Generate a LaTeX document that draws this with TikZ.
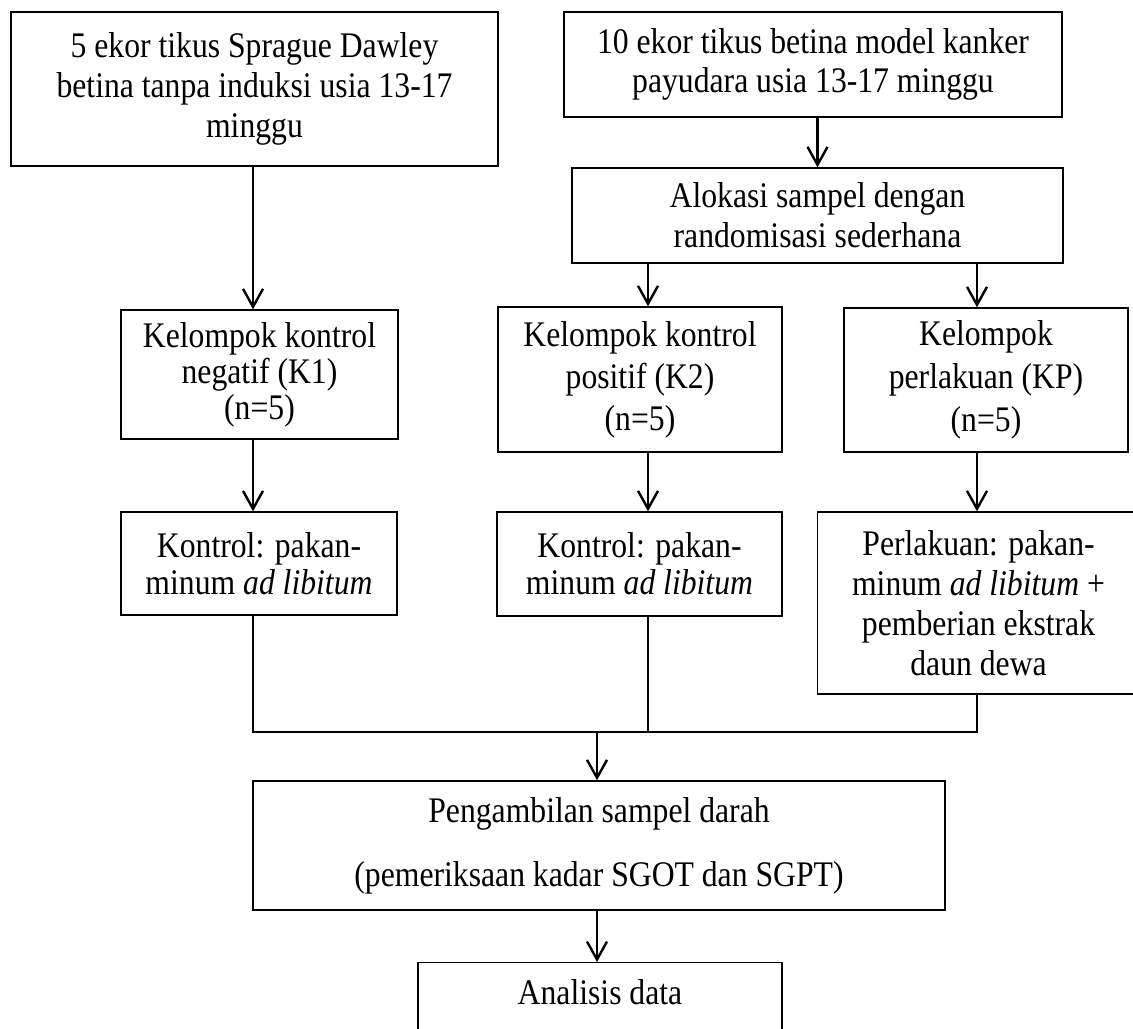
\documentclass[tikz,border=0pt]{standalone}
\usepackage{fontspec}
\setmainfont[FakeStretch=0.88]{Liberation Serif}
\usetikzlibrary{arrows.meta}
\begin{document}
\begin{tikzpicture}[x=0.5pt,y=-0.5pt,
  box/.style={draw=black,line width=0.7pt,rectangle,align=center,inner sep=0pt,
    font=\fontsize{18}{19.5}\selectfont},
  conn/.style={line width=1.2pt,black},
  arr/.style={conn,-{Straight Barb[length=9pt,width=10pt,line width=1.2pt]}}]
\useasboundingbox[fill=white] (0,0) rectangle (1133,1028);

\node[box,minimum width=243.5pt,minimum height=77pt,font=\fontsize{18}{20}\selectfont] (A) at (254.5,89)
  {5 ekor tikus Sprague Dawley\\betina tanpa induksi usia 13-17\\minggu};
\node[box,minimum width=249pt,minimum height=52.5pt] (B) at (813,64.5)
  {10 ekor tikus betina model kanker\\payudara usia 13-17 minggu};
\node[box,minimum width=245.5pt,minimum height=47.5pt,font=\fontsize{18}{20}\selectfont] (C) at (817.5,215.5)
  {Alokasi sampel dengan\\randomisasi sederhana};
\node[box,minimum width=138.5pt,minimum height=64.5pt,font=\fontsize{18}{18}\selectfont] (D) at (259.5,374.5)
  {Kelompok kontrol\\negatif (K1)\\(n=5)};
\node[box,minimum width=142pt,minimum height=72.5pt,font=\fontsize{18}{21}\selectfont] (E) at (640,379.5)
  {Kelompok kontrol\\positif (K2)\\(n=5)};
\node[box,minimum width=142pt,minimum height=72pt,font=\fontsize{18}{21.5}\selectfont] (F) at (986,380)
  {Kelompok\\perlakuan (KP)\\(n=5)};
\node[box,minimum width=138pt,minimum height=51.5pt,font=\fontsize{18}{18.5}\selectfont] (G) at (259,563.5)
  {Kontrol: pakan-\\minum \textit{ad libitum}};
\node[box,minimum width=142.5pt,minimum height=52pt,font=\fontsize{18}{18.5}\selectfont] (H) at (639.5,564)
  {Kontrol: pakan-\\minum \textit{ad libitum}};
\node[box,minimum width=161pt,minimum height=91pt,font=\fontsize{18}{20}\selectfont] (I) at (978.5,603)
  {Perlakuan: pakan-\\minum \textit{ad libitum} +\\pemberian ekstrak\\daun dewa};
\node[box,minimum width=346pt,minimum height=64.5pt,font=\fontsize{18}{32}\selectfont] (J) at (599,845.5)
  {Pengambilan sampel darah\\(pemeriksaan kadar SGOT dan SGPT)};
\node[box,anchor=north,minimum width=182pt,text height=21pt,text depth=30pt,inner ysep=0pt] (K) at (600,962)
  {Analisis data};

\coordinate (cL) at (253,0);
\coordinate (cM) at (648,0);
\coordinate (cR) at (977,0);
\coordinate (cB) at (597,732);

\draw[arr] (A.south -| cL) -- (D.north -| cL);
\draw[arr] (C.north |- B.south) -- (C.north);
\draw[arr] (C.south -| cM) -- (E.north -| cM);
\draw[arr] (C.south -| cR) -- (F.north -| cR);
\draw[arr] (D.south -| cL) -- (G.north -| cL);
\draw[arr] (E.south -| cM) -- (H.north -| cM);
\draw[arr] (F.south -| cR) -- (I.north -| cR);
\draw[conn] (G.south -| cL) -- (cL |- cB) -- (cR |- cB) -- (I.south -| cR);
\draw[conn] (H.south -| cM) -- (cM |- cB);
\draw[arr] (cB) -- (J.north -| cB);
\draw[arr] (J.south -| cB) -- (K.north -| cB);
\end{tikzpicture}
\end{document}
